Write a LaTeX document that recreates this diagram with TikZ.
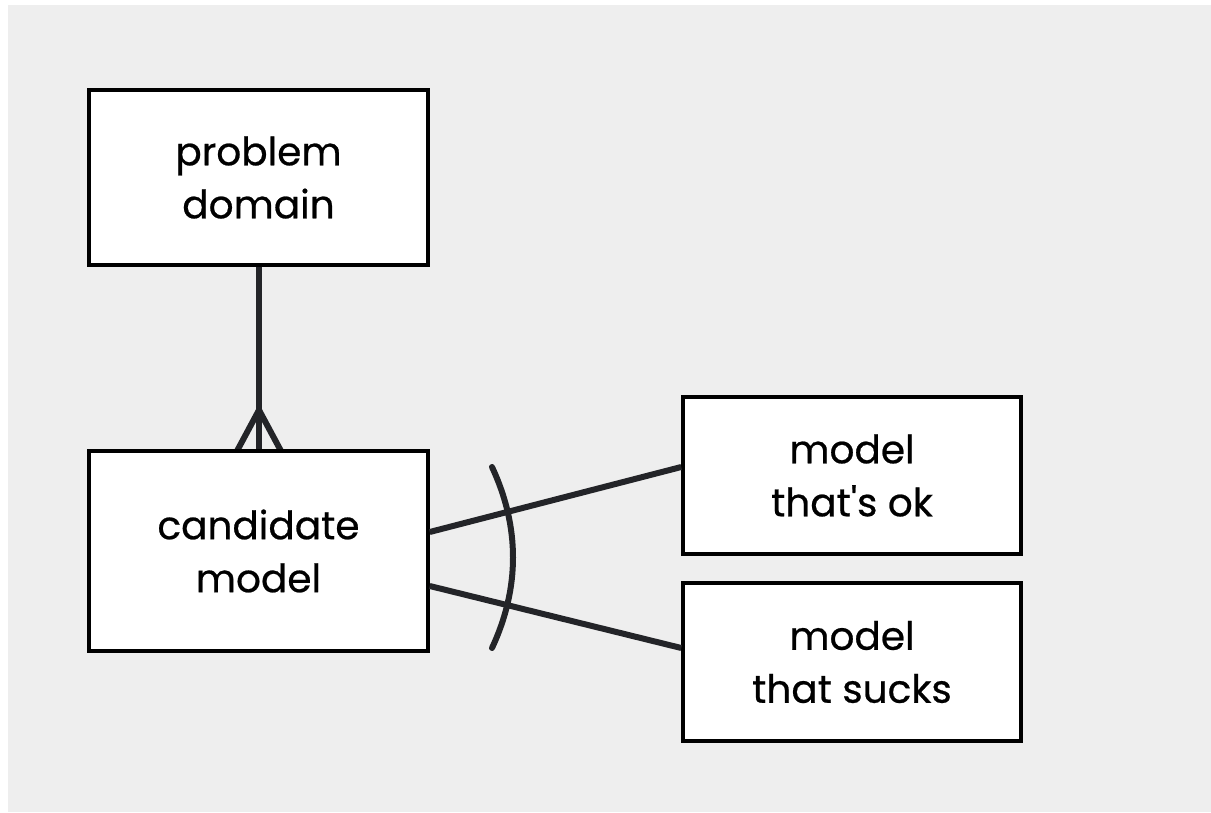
\documentclass[tikz,border=0pt]{standalone}
\usepackage{fontspec}
\setmainfont{Poppins}[FakeBold=0.6]
\usetikzlibrary{calc}
\definecolor{bg}{HTML}{EEEEEE}
\definecolor{conn}{HTML}{232428}
\begin{document}
\begin{tikzpicture}[x=1pt,y=-1pt,
  box/.style={draw=black,line width=3.5pt,fill=white,inner sep=0pt,align=center,
    font=\fontsize{39}{53}\selectfont,text=black},
  link/.style={draw=conn,line width=6pt}]
\useasboundingbox (0,0) rectangle (1211,813);
\fill[white] (0,0) rectangle (1211,813);
\fill[bg] (8,5) rectangle (1211,812);
\coordinate (fork) at (259,410);
\coordinate (a1) at (492,467);
\coordinate (a2) at (492,648);
\draw[link] (fork) -- (237,451);
\draw[link] (fork) -- (281,451);
\draw[link,line cap=round] (a1) .. controls (520,527) and (520,588) .. (a2);
\node[box,minimum width=339pt,minimum height=175pt] (pd) at (258.5,177.5) {problem\\domain};
\node[box,minimum width=339pt,minimum height=200pt] (cm) at (258.5,551) {candidate\\model};
\node[box,minimum width=338pt,minimum height=157pt] (ok) at (852,475.5) {model\\that\textquotesingle s ok};
\node[box,minimum width=338pt,minimum height=158pt] (su) at (852,662) {model\\that sucks};
\draw[link] (pd.south) -- (cm.north);
\draw[link] ($(cm.east)+(0,-19)$) -- ($(ok.west)+(0,-8.5)$);
\draw[link] ($(cm.east)+(0,35)$) -- ($(su.west)+(0,-14)$);
\end{tikzpicture}
\end{document}
